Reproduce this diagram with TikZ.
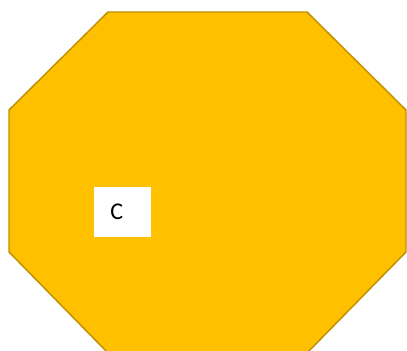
\documentclass[tikz,border=0pt]{standalone}
\usepackage{fontspec}
\setmainfont{Carlito}
\definecolor{ambar}{HTML}{FFC000}
\definecolor{ambarborde}{HTML}{BF9000}
\begin{document}
\begin{tikzpicture}[x=0.75pt, y=-0.75pt]
        \useasboundingbox (0,0) rectangle (407,350);
        % Octagono
        \begin{scope}
            \clip (0,0) rectangle (407,350);
            \fill[ambar] (108,12) -- (307,12) -- (406,110) -- (406,252)
                -- (307,353) -- (108,353) -- (9,252) -- (9,110) -- cycle;
            \draw[ambarborde, line width=1.1pt] (108,12) -- (307,12) -- (406,110) -- (406,252)
                -- (307,353) -- (108,353) -- (9,252) -- (9,110) -- cycle;
        \end{scope}
        % Etiqueta
        \node[fill=white, anchor=west, minimum height=37.5pt, inner xsep=12pt,
              text width=18.75pt, align=left, font=\fontsize{18}{21}\selectfont]
              (etiqueta) at (94,212) {C};
    \end{tikzpicture}
\end{document}
